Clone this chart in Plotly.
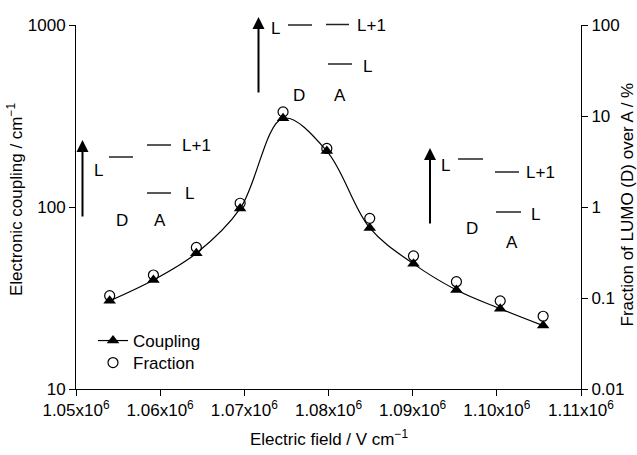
import plotly.graph_objects as go

# ---- data ----
field = [1.0540e6, 1.0592e6, 1.0643e6, 1.0695e6, 1.0746e6, 1.0798e6,
         1.0849e6, 1.0901e6, 1.0952e6, 1.1004e6, 1.1055e6]
coupling = [30.5, 39.7, 55.7, 98, 307, 203, 76.7, 48.7, 35, 27.6, 22.3]
fraction = [0.106, 0.179, 0.36, 1.1, 11.1, 4.4, 0.75, 0.29, 0.151, 0.093, 0.063]

x_ticks = [1.05e6, 1.06e6, 1.07e6, 1.08e6, 1.09e6, 1.10e6, 1.11e6]
x_ticktext = ["1.05x10<sup>6</sup>", "1.06x10<sup>6</sup>", "1.07x10<sup>6</sup>",
              "1.08x10<sup>6</sup>", "1.09x10<sup>6</sup>", "1.10x10<sup>6</sup>",
              "1.11x10<sup>6</sup>"]
y_ticks = [10, 100, 1000]
y2_ticks = [0.01, 0.1, 1, 10, 100]
y2_ticktext = ["0.01", "0.1", "1", "10", "100"]

FONT = "Liberation Sans, Arial, sans-serif"
FS = 17
W, H = 637, 455
L, R, T, B = 76, 581, 25, 389  # plot area in pixels


def px(x):
    return (x - L) / (R - L)


def py(y):
    return (B - y) / (B - T)


fig = go.Figure()
fig.add_trace(go.Scatter(
    x=field, y=coupling, name="Coupling", mode="lines+markers",
    line=dict(color="black", width=1.2, shape="spline", smoothing=1.0),
    marker=dict(symbol="triangle-up", size=11, color="black"),
    yaxis="y", legend="legend"))
fig.add_trace(go.Scatter(
    x=field, y=fraction, name="Fraction", mode="markers",
    marker=dict(symbol="circle-open", size=10, color="black", line=dict(width=1.2)),
    yaxis="y2", legend="legend2"))

shapes = []
annotations = []

# energy-level diagrams (pixel positions converted to paper coordinates)
levels = [
    # (x0, x1, y)
    (109, 133, 157), (147, 171, 145), (147, 171, 193),
    (288, 312, 25), (326, 349, 24.5), (328, 352, 64),
    (458, 483, 159), (495, 519, 172), (496, 521, 212),
]
for x0, x1, y in levels:
    shapes.append(dict(type="line", xref="paper", yref="paper",
                       x0=px(x0), x1=px(x1), y0=py(y), y1=py(y),
                       line=dict(color="#222", width=1.5)))

labels = [
    ("L", 98, 170), ("L+1", 196, 145), ("L", 189, 193), ("D", 122, 220), ("A", 160, 220),
    ("L", 275, 29), ("L+1", 371, 25), ("L", 367, 66), ("D", 299, 95), ("A", 340, 95),
    ("L", 445, 165), ("L+1", 540, 172), ("L", 535, 215), ("D", 472, 228), ("A", 512, 242),
]
for t, x, y in labels:
    annotations.append(dict(text=t, xref="paper", yref="paper", x=px(x), y=py(y),
                            xanchor="center", yanchor="middle", showarrow=False,
                            font=dict(family=FONT, size=FS, color="black")))

arrows = [(82.5, 218, 140), (258.5, 94, 17), (430, 225, 148)]
for x, y0, y1 in arrows:
    annotations.append(dict(text="", xref="paper", yref="paper", x=px(x), y=py(y1),
                            axref="pixel", ayref="pixel", ax=0, ay=(y0 - y1),
                            showarrow=True, arrowhead=2, arrowsize=1.2, arrowwidth=2,
                            arrowcolor="black", standoff=0, startstandoff=0))

# axis titles
annotations.append(dict(text="Electric field / V cm<sup>\u22121</sup>", xref="paper", yref="paper",
                        x=px(328.5), y=py(438), xanchor="center", yanchor="middle",
                        showarrow=False, font=dict(family=FONT, size=FS, color="black")))
annotations.append(dict(text="Electronic coupling / cm<sup>\u22121</sup>", xref="paper", yref="paper",
                        x=px(15), y=py(200), xanchor="center", yanchor="middle", textangle=-90,
                        showarrow=False, font=dict(family=FONT, size=FS, color="black")))
annotations.append(dict(text="Fraction of LUMO (D) over A / %", xref="paper", yref="paper",
                        x=px(626.5), y=py(205), xanchor="center", yanchor="middle", textangle=-90,
                        showarrow=False, font=dict(family=FONT, size=FS, color="black")))

axis_common = dict(showline=True, linecolor="black", linewidth=1, ticks="outside",
                   ticklen=6, tickcolor="black", tickwidth=1, showgrid=False, zeroline=False,
                   tickfont=dict(family=FONT, size=FS, color="black"))

legend_common = dict(xanchor="left", yanchor="top", bgcolor="rgba(0,0,0,0)",
                     font=dict(family=FONT, size=FS, color="black"))

fig.update_layout(
    width=W, height=H,
    margin=dict(l=L, r=W - R, t=T, b=H - B, autoexpand=False),
    paper_bgcolor="white", plot_bgcolor="white",
    showlegend=True,
    legend=dict(x=px(93), y=py(323), **legend_common),
    legend2=dict(x=px(93), y=py(345), **legend_common),
    xaxis=dict(range=[1.05e6, 1.11e6], tickvals=x_ticks, ticktext=x_ticktext, **axis_common),
    yaxis=dict(type="log", range=[1, 3], tickvals=y_ticks, ticktext=["10", "100", "1000"],
               **axis_common),
    yaxis2=dict(type="log", range=[-2, 2], tickvals=y2_ticks, ticktext=y2_ticktext,
                overlaying="y", side="right", **axis_common),
    shapes=shapes, annotations=annotations,
)

fig.write_html("out.html")
